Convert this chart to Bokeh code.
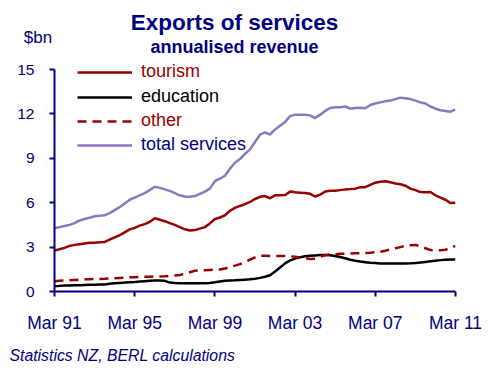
from bokeh.plotting import figure
from bokeh.layouts import column
from bokeh.models import Label, Legend, LegendItem, FixedTicker, Range1d, ColumnDataSource
from bokeh.embed import file_html
from bokeh.resources import INLINE

NAVY = "#000080"
RED = "#990000"
PURPLE = "#8c79bd"
FONT = "Liberation Sans"

# Quarterly data, Mar 1991 .. Mar 2011 (81 quarters), $bn annualised
tourism = [2.77, 2.85, 2.95, 3.08, 3.15, 3.2, 3.25, 3.3, 3.3, 3.32,
           3.35, 3.5, 3.65, 3.8, 4.0, 4.2, 4.3, 4.45, 4.55, 4.7,
           4.95, 4.85, 4.75, 4.62, 4.5, 4.35, 4.2, 4.12, 4.15, 4.25,
           4.35, 4.6, 4.9, 5.0, 5.15, 5.45, 5.65, 5.78, 5.9, 6.05,
           6.25, 6.4, 6.45, 6.3, 6.5, 6.5, 6.52, 6.75, 6.7, 6.68,
           6.65, 6.6, 6.42, 6.55, 6.75, 6.8, 6.8, 6.85, 6.9, 6.92,
           6.95, 7.05, 7.05, 7.2, 7.35, 7.42, 7.45, 7.38, 7.3, 7.25,
           7.15, 6.95, 6.85, 6.72, 6.7, 6.72, 6.5, 6.35, 6.2, 5.98, 6.0]
education = [0.36, 0.38, 0.4, 0.41, 0.42, 0.43, 0.44, 0.45, 0.46, 0.47,
             0.48, 0.52, 0.55, 0.58, 0.6, 0.63, 0.65, 0.68, 0.7, 0.72,
             0.74, 0.75, 0.72, 0.6, 0.57, 0.56, 0.56, 0.56, 0.55, 0.55,
             0.56, 0.58, 0.62, 0.68, 0.72, 0.75, 0.76, 0.78, 0.8, 0.82,
             0.86, 0.92, 1.0, 1.1, 1.35, 1.62, 1.9, 2.1, 2.22, 2.32,
             2.38, 2.42, 2.44, 2.46, 2.46, 2.45, 2.4, 2.33, 2.25, 2.15,
             2.08, 2.02, 1.98, 1.94, 1.92, 1.9, 1.9, 1.9, 1.9, 1.9,
             1.9, 1.91, 1.93, 1.96, 2.0, 2.04, 2.08, 2.12, 2.15, 2.17, 2.16]
other = [0.7, 0.72, 0.74, 0.76, 0.78, 0.8, 0.82, 0.83, 0.84, 0.85,
         0.86, 0.88, 0.9, 0.92, 0.94, 0.96, 0.97, 0.98, 0.99, 1.0,
         1.01, 1.02, 1.03, 1.05, 1.08, 1.12, 1.2, 1.3, 1.4, 1.42,
         1.43, 1.45, 1.47, 1.49, 1.55, 1.65, 1.75, 1.85, 2.0, 2.15,
         2.3, 2.42, 2.42, 2.4, 2.4, 2.4, 2.4, 2.38, 2.35, 2.3,
         2.25, 2.2, 2.22, 2.35, 2.45, 2.5, 2.52, 2.55, 2.56, 2.57,
         2.58, 2.59, 2.6, 2.62, 2.65, 2.68, 2.75, 2.85, 2.92, 3.0,
         3.08, 3.12, 3.15, 3.05, 2.92, 2.8, 2.78, 2.78, 2.82, 2.95, 3.08]
total = [4.28, 4.35, 4.42, 4.5, 4.62, 4.8, 4.9, 4.98, 5.08, 5.12,
         5.15, 5.3, 5.5, 5.7, 5.95, 6.2, 6.35, 6.5, 6.65, 6.85,
         7.08, 7.0, 6.9, 6.8, 6.65, 6.5, 6.42, 6.4, 6.45, 6.6,
         6.75, 6.95, 7.45, 7.62, 7.82, 8.3, 8.7, 8.95, 9.3, 9.6,
         10.1, 10.6, 10.75, 10.6, 10.95, 11.2, 11.45, 11.85, 11.95, 11.95,
         11.95, 11.9, 11.72, 11.95, 12.2, 12.4, 12.45, 12.45, 12.5, 12.35,
         12.4, 12.42, 12.38, 12.6, 12.7, 12.78, 12.85, 12.9, 13.0, 13.1,
         13.05, 13.0, 12.9, 12.78, 12.7, 12.5, 12.35, 12.25, 12.2, 12.15, 12.3]
quarter = list(range(len(total)))

tick_pos = [0, 16, 32, 48, 64, 80]
tick_labels = ["Mar 91", "Mar 95", "Mar 99", "Mar 03", "Mar 07", "Mar 11"]
y_ticks = [0, 3, 6, 9, 12, 15]

title_text = "Exports of services"
subtitle_text = "annualised revenue"
unit_text = "$bn"
source_text = "Statistics NZ, BERL calculations"


def blank(height, y_top):
    f = figure(width=494, height=height, output_backend="svg", toolbar_location=None,
               x_range=Range1d(0, 494), y_range=Range1d(y_top + height, y_top),
               x_axis_location=None, y_axis_location=None,
               min_border=0, frame_align=False)
    f.outline_line_color = None
    f.grid.visible = False
    return f


# ---- header ----
head = blank(60, 0)
head.add_layout(Label(x=234, y=22, text=title_text, text_font=FONT,
                      text_font_size="22.5px", text_font_style="bold",
                      text_color=NAVY, text_align="center", text_baseline="middle"))
head.add_layout(Label(x=234, y=46, text=subtitle_text, text_font=FONT,
                      text_font_size="18px", text_font_style="bold",
                      text_color=NAVY, text_align="center", text_baseline="middle"))
head.add_layout(Label(x=37.5, y=37, text=unit_text, text_font=FONT,
                      text_font_size="17px", text_color=NAVY,
                      text_align="center", text_baseline="middle"))

# ---- main chart ----
src = ColumnDataSource(dict(q=quarter, tourism=tourism, education=education,
                            other=other, total=total))

p = figure(width=494, height=280, output_backend="svg", toolbar_location=None,
           x_range=Range1d(0, 80), y_range=Range1d(0, 231 / 14.8),
           min_border_left=54, min_border_right=39, min_border_top=0,
           min_border_bottom=49, frame_align=False)
p.outline_line_color = None
p.xgrid.visible = False
p.ygrid.visible = False

for ax in (p.xaxis[0], p.yaxis[0]):
    ax.axis_line_color = NAVY
    ax.axis_line_width = 2
    ax.major_tick_line_color = NAVY
    ax.major_tick_line_width = 2
    ax.major_tick_in = 0
    ax.major_tick_out = 5
    ax.minor_tick_line_color = None
    ax.major_label_text_color = NAVY
    ax.major_label_text_font = FONT

p.xaxis.ticker = FixedTicker(ticks=tick_pos)
p.xaxis.major_label_overrides = dict(zip(tick_pos, tick_labels))
p.xaxis.major_label_text_font_size = "17.5px"
p.xaxis.major_label_standoff = 16
p.yaxis.ticker = FixedTicker(ticks=y_ticks)
p.yaxis.bounds = (0, 15)
p.yaxis.major_label_text_font_size = "15.5px"
p.yaxis.major_label_standoff = 15

r_tour = p.line("q", "tourism", source=src, line_color=RED, line_width=2.5)
r_edu = p.line("q", "education", source=src, line_color="black", line_width=2.5)
r_oth = p.line("q", "other", source=src, line_color=RED, line_width=2.5, line_dash="9 6")
r_tot = p.line("q", "total", source=src, line_color=PURPLE, line_width=2.5)

entries = [("tourism", r_tour, RED, 209),
           ("education", r_edu, "black", 184),
           ("other", r_oth, RED, 160),
           ("total services", r_tot, NAVY, 136)]
for name, rend, col, ypos in entries:
    lg = Legend(items=[LegendItem(label=name, renderers=[rend])],
                location=(23, ypos), padding=0, margin=0, spacing=0,
                glyph_width=55, glyph_height=20, label_height=20,
                label_standoff=9, border_line_color=None,
                background_fill_alpha=0, label_text_color=col,
                label_text_font=FONT, label_text_font_size="18px")
    p.add_layout(lg, "center")

# ---- footer ----
foot = blank(35, 340)
foot.add_layout(Label(x=9, y=355, text=source_text, text_font=FONT,
                      text_font_size="15.8px", text_font_style="italic",
                      text_color=NAVY, text_align="left", text_baseline="middle"))

layout = column(head, p, foot, spacing=0)
open("out.html", "w").write(file_html(layout, INLINE))
